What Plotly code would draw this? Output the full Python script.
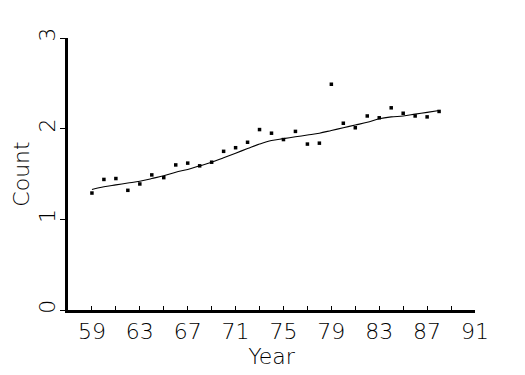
import plotly.graph_objects as go

years = list(range(59, 89))
counts = [1.29, 1.44, 1.45, 1.32, 1.39, 1.49, 1.46, 1.60, 1.62, 1.59,
          1.63, 1.75, 1.79, 1.85, 1.99, 1.95, 1.88, 1.97, 1.83, 1.84,
          2.49, 2.06, 2.01, 2.14, 2.12, 2.23, 2.17, 2.14, 2.13, 2.19]
smooth = [1.33, 1.36, 1.38, 1.40, 1.42, 1.45, 1.48, 1.52, 1.55, 1.59,
          1.63, 1.68, 1.73, 1.78, 1.83, 1.87, 1.89, 1.91, 1.93, 1.95,
          1.98, 2.01, 2.04, 2.07, 2.11, 2.13, 2.14, 2.16, 2.18, 2.20]
x_ticks = [59, 63, 67, 71, 75, 79, 83, 87, 91]
y_ticks = [0, 1, 2, 3]

FONT = dict(family="DejaVu Sans", size=22, color="black", weight=200)

fig = go.Figure()
fig.add_trace(go.Scatter(x=years, y=smooth, mode="lines",
                         line=dict(color="black", width=1.1, shape="spline"),
                         hoverinfo="skip"))
fig.add_trace(go.Scatter(x=years, y=counts, mode="markers",
                         marker=dict(symbol="square", size=3.5, color="black")))

fig.update_layout(
    width=525, height=375,
    margin=dict(l=68, r=50, t=38, b=65),
    paper_bgcolor="white", plot_bgcolor="white",
    showlegend=False,
    font=FONT,
)
fig.update_xaxes(
    range=[57, 91], tickvals=x_ticks, ticktext=[str(v) for v in x_ticks],
    ticks="inside", ticklen=4, tickwidth=1, tickcolor="black",
    minor=dict(dtick=2, tick0=57, ticks="inside", ticklen=4, tickwidth=1, tickcolor="black"),
    showline=True, linecolor="black", linewidth=2.5,
    showgrid=False, zeroline=False,
    title=dict(text="Year", font=FONT, standoff=2),
    tickfont=FONT,
)
fig.update_yaxes(
    range=[0, 3], tickvals=y_ticks, ticktext=[str(v) for v in y_ticks],
    ticks="outside", ticklen=5, tickwidth=1, tickcolor="black",
    tickangle=-90, ticklabelstandoff=-4,
    showline=True, linecolor="black", linewidth=2.5,
    showgrid=False, zeroline=False,
    title=dict(text="Count", font=FONT, standoff=0),
    tickfont=FONT,
)

fig.write_html("out.html")
